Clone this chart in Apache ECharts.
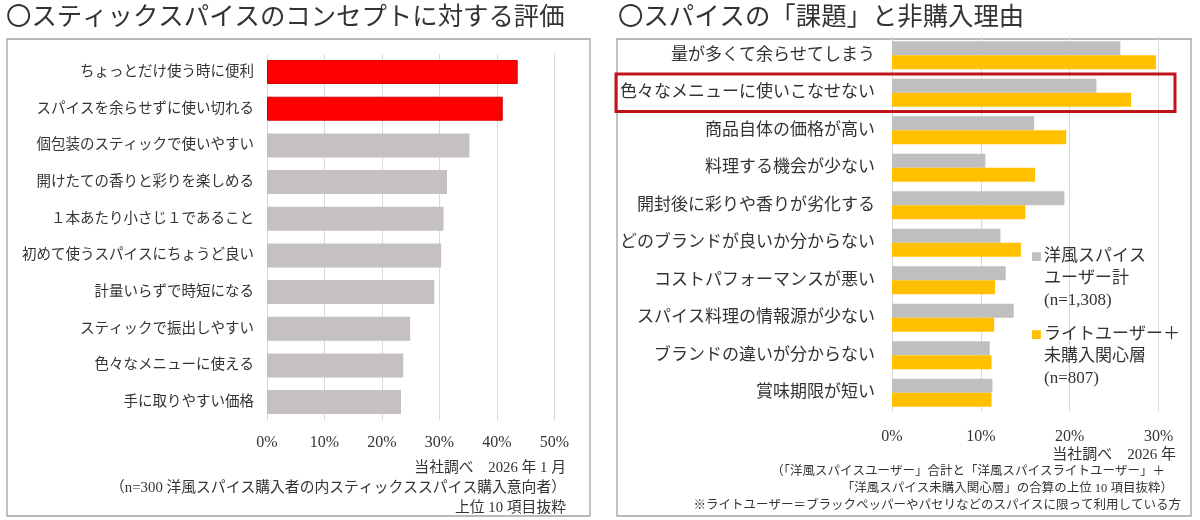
<!DOCTYPE html>
<html>
<head>
<meta charset="utf-8">
<script src="https://cdn.jsdelivr.net/npm/echarts@6/dist/echarts.min.js"></script>
<style>
  html, body { margin: 0; padding: 0; background: #fff; }
  #main { width: 1200px; height: 520px; }
</style>
</head>
<body>
<div id="main"></div>
<script>
// 左：スティックスパイスのコンセプト評価
const leftCategories = [
  'ちょっとだけ使う時に便利',
  'スパイスを余らせずに使い切れる',
  '個包装のスティックで使いやすい',
  '開けたての香りと彩りを楽しめる',
  '１本あたり小さじ１であること',
  '初めて使うスパイスにちょうど良い',
  '計量いらずで時短になる',
  'スティックで振出しやすい',
  '色々なメニューに使える',
  '手に取りやすい価格'
]
const leftValues = [43.6, 41.0, 35.2, 31.3, 30.7, 30.3, 29.1, 24.9, 23.7, 23.3]
const leftTicks = ['0%', '10%', '20%', '30%', '40%', '50%']

// 右：課題と非購入理由
const rightCategories = [
  '量が多くて余らせてしまう',
  '色々なメニューに使いこなせない',
  '商品自体の価格が高い',
  '料理する機会が少ない',
  '開封後に彩りや香りが劣化する',
  'どのブランドが良いか分からない',
  'コストパフォーマンスが悪い',
  'スパイス料理の情報源が少ない',
  'ブランドの違いが分からない',
  '賞味期限が短い'
]
const userTotal = [25.7, 23.0, 16.0, 10.5, 19.4, 12.2, 12.8, 13.7, 11.0, 11.3]
const lightPlusProspect = [29.7, 26.9, 19.6, 16.1, 15.0, 14.5, 11.6, 11.5, 11.2, 11.2]
const rightTicks = ['0%', '10%', '20%', '30%']
const seriesNames = ['洋風スパイスユーザー計', 'ライトユーザー＋未購入関心層']
const legendLines = [
  ['洋風スパイス', 'ユーザー計', '(n=1,308)'],
  ['ライトユーザー＋', '未購入関心層', '(n=807)']
]

const titles = ['〇スティックスパイスのコンセプトに対する評価', '〇スパイスの「課題」と非購入理由']
const leftNotes = [
  '当社調べ　2026 年 1 月',
  '（n=300 洋風スパイス購入者の内スティックススパイス購入意向者）',
  '上位 10 項目抜粋'
]
const rightNotes = [
  '当社調べ　2026 年',
  '（「洋風スパイスユーザー」合計と「洋風スパイスライトユーザー」＋',
  '「洋風スパイス未購入関心層」の合算の上位 10 項目抜粋）',
  '※ライトユーザー＝ブラックペッパーやパセリなどのスパイスに限って利用している方'
]
const highlightCount = 2
const highlightRow = 1

const FONT = "'Liberation Serif', 'Noto Sans CJK JP', serif"
const TEXT = '#333'
const GRID_LINE = '#d9d9d9'
const BOX = '#a3a3a3'
const RED = { color: '#ff0000', borderColor: '#d40000', borderWidth: 1 }
const GRAY = { color: '#c4c0c4' }

const chart = echarts.init(document.getElementById('main'))

const noteText = (text, x, y, size) => ({
  type: 'text',
  x: x,
  y: y,
  style: {
    text: text,
    font: size + 'px ' + FONT,
    fill: TEXT,
    textAlign: 'right',
    textVerticalAlign: 'middle'
  }
})

const graphics = [
  { type: 'rect', shape: { x: 7, y: 39, width: 583, height: 477 }, style: { fill: 'none', stroke: BOX, lineWidth: 1.3 } },
  { type: 'rect', shape: { x: 617, y: 39, width: 574, height: 477 }, style: { fill: 'none', stroke: BOX, lineWidth: 1.3 } },
  noteText(leftNotes[0], 566, 468, 14.8),
  noteText(leftNotes[1], 566, 488, 14.8),
  noteText(leftNotes[2], 566, 508, 14.8),
  noteText(rightNotes[0], 1176, 455, 15),
  noteText(rightNotes[1], 1165, 472, 12.5),
  noteText(rightNotes[2], 1173, 489, 12.5),
  noteText(rightNotes[3], 1181, 506, 12.5)
]

const legendRich = {
  t: { fontFamily: FONT, fontSize: 17, lineHeight: 22, color: TEXT },
  pad: { width: 13, lineHeight: 22 },
  sq0: { fontFamily: 'Noto Sans CJK JP', fontSize: 11, width: 13, lineHeight: 22, color: '#bfbfbf' },
  sq1: { fontFamily: 'Noto Sans CJK JP', fontSize: 11, width: 13, lineHeight: 22, color: '#ffc000' }
}

chart.setOption({
  animation: false,
  title: [
    { text: titles[0], left: 6, top: 5, padding: 0, textStyle: { fontFamily: FONT, fontSize: 25.4, fontWeight: 'normal', color: TEXT, lineHeight: 26 } },
    { text: titles[1], left: 618, top: 5, padding: 0, textStyle: { fontFamily: FONT, fontSize: 25.4, fontWeight: 'normal', color: TEXT, lineHeight: 26 } }
  ],
  legend: {
    orient: 'vertical',
    left: 1021,
    top: 243,
    itemWidth: 0,
    itemHeight: 0,
    itemGap: 17,
    selectedMode: false,
    data: seriesNames,
    formatter: name => {
      const i = seriesNames.indexOf(name)
      const l = legendLines[i]
      return '{sq' + i + '|■}{t|' + l[0] + '}\n{pad|}{t|' + l[1] + '}\n{pad|}{t|' + l[2] + '}'
    },
    textStyle: { rich: legendRich }
  },
  grid: [
    { left: 267, top: 53.7, width: 287.5, height: 366.7 },
    { left: 892, top: 36.5, width: 266.6, height: 375 }
  ],
  xAxis: [
    {
      gridIndex: 0, type: 'value', min: 0, max: 50, interval: 10,
      axisLine: { show: false }, axisTick: { show: false },
      splitLine: { lineStyle: { color: GRID_LINE } },
      axisLabel: { margin: 14, fontFamily: FONT, fontSize: 16, color: TEXT, formatter: v => leftTicks[v / 10] }
    },
    {
      gridIndex: 1, type: 'value', min: 0, max: 30, interval: 10,
      axisLine: { show: false }, axisTick: { show: false },
      splitLine: { lineStyle: { color: GRID_LINE } },
      axisLabel: { margin: 17, fontFamily: FONT, fontSize: 16, color: TEXT, formatter: v => rightTicks[v / 10] }
    }
  ],
  yAxis: [
    {
      gridIndex: 0, type: 'category', inverse: true, data: leftCategories,
      axisLine: { show: false }, axisTick: { show: false },
      axisLabel: { margin: 13, fontFamily: FONT, fontSize: 14.5, color: TEXT }
    },
    {
      gridIndex: 1, type: 'category', inverse: true, data: rightCategories,
      axisLine: { show: false }, axisTick: { show: false },
      axisLabel: { margin: 17, fontFamily: FONT, fontSize: 17, color: TEXT }
    }
  ],
  series: [
    {
      type: 'bar', xAxisIndex: 0, yAxisIndex: 0, barWidth: 24,
      data: leftValues.map((v, i) => ({ value: v, itemStyle: i < highlightCount ? RED : GRAY }))
    },
    {
      name: seriesNames[0], type: 'bar', xAxisIndex: 1, yAxisIndex: 1, data: userTotal,
      barWidth: 14, barGap: '0%', itemStyle: { color: '#bfbfbf' }
    },
    {
      name: seriesNames[1], type: 'bar', xAxisIndex: 1, yAxisIndex: 1, data: lightPlusProspect,
      barWidth: 14, barGap: '0%', itemStyle: { color: '#ffc000' }
    }
  ],
  graphic: graphics
})

// 「色々なメニューに使いこなせない」の行を赤枠で囲む
const y0 = chart.convertToPixel({ yAxisIndex: 1 }, 0)
const y1 = chart.convertToPixel({ yAxisIndex: 1 }, highlightRow)
const band = y1 - y0
chart.setOption({
  graphic: graphics.concat([{
    type: 'rect',
    shape: { x: 616, y: y1 - band / 2, width: 559, height: band },
    style: { fill: 'none', stroke: '#c0141c', lineWidth: 3 },
    z: 10
  }])
})
</script>
</body>
</html>
